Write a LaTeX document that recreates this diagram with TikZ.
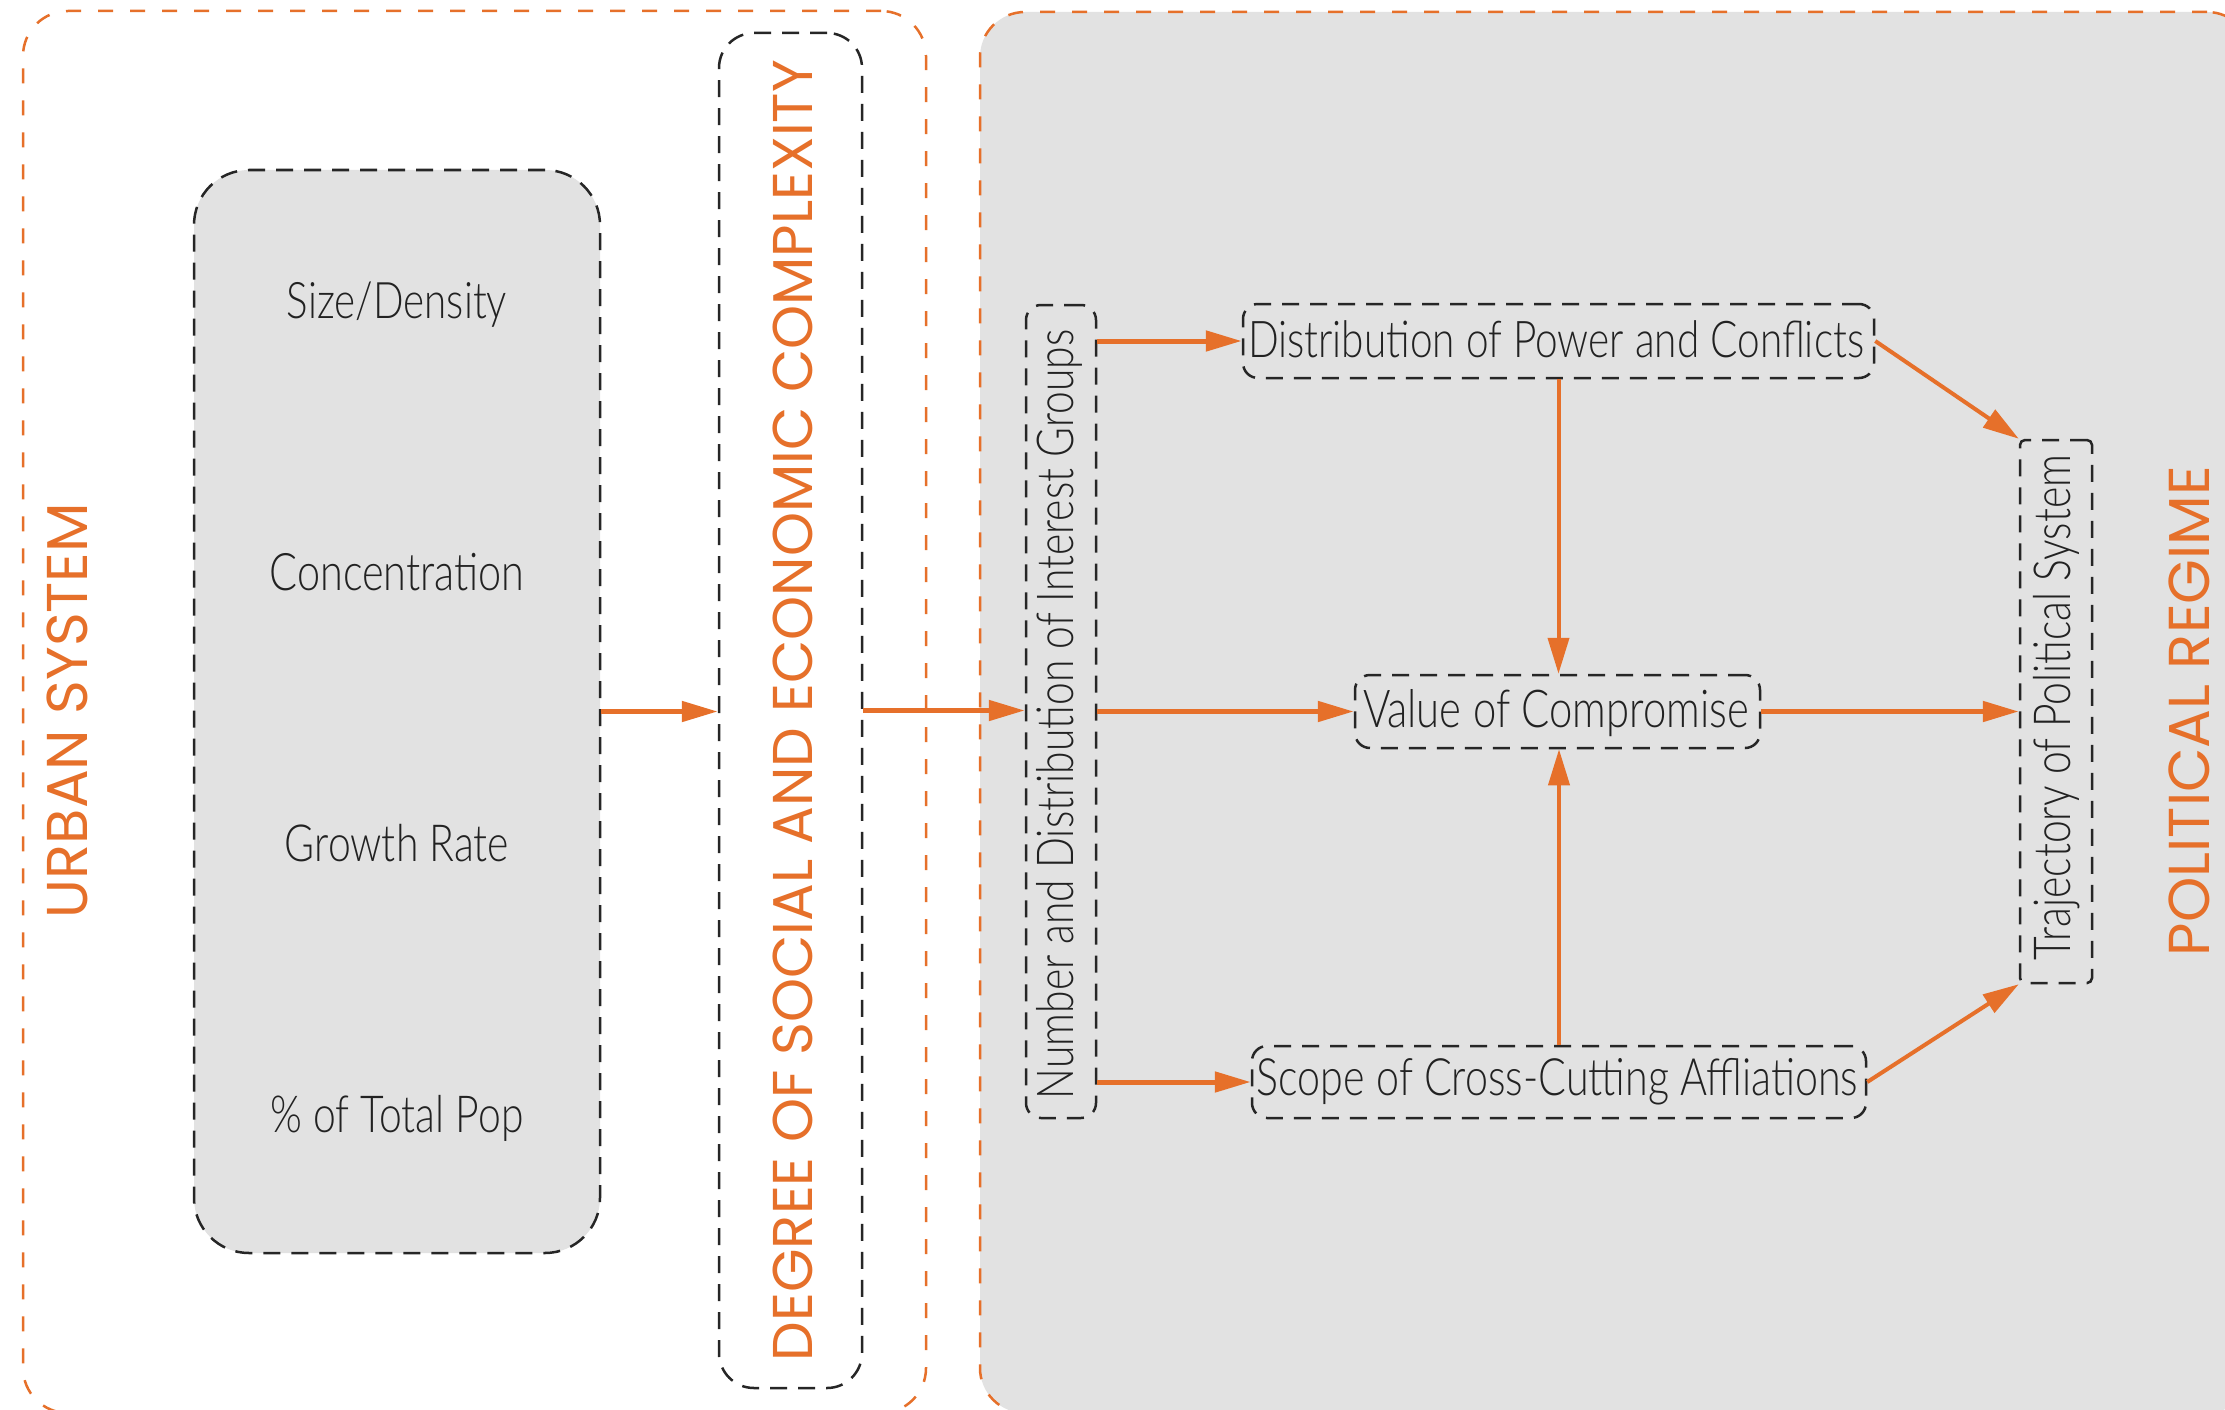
\documentclass[tikz,border=0pt]{standalone}
\usepackage{fontspec}
\usepackage{graphicx}
\usetikzlibrary{arrows.meta}
\setmainfont{Open Sans}
\newfontfamily\labfont[FakeStretch=0.8, UprightFont={* Light}]{Lato}
\newfontfamily\orfont{Poppins}
\definecolor{myorange}{HTML}{E6702A}
\definecolor{mygray}{HTML}{E2E2E2}
\definecolor{mytext}{HTML}{222222}
\newcommand{\fitw}[2]{\resizebox{#1}{!}{#2}}
\tikzset{
  orframe/.style={draw=myorange, line width=2.5pt, dash pattern=on 15pt off 17pt, rounded corners=45pt, inner sep=0pt},
  dbox/.style={draw=black!85, line width=2.5pt, dash pattern=on 17pt off 11pt, inner sep=0pt},
  lab/.style={inner sep=0pt, text=mytext, anchor=base, font=\labfont\fontsize{40}{48}\selectfont},
  olab/.style={inner sep=0pt, text=myorange, anchor=base, rotate=90, font=\orfont\fontsize{56}{64}\selectfont},
  arr/.style={draw=myorange, line width=5pt, -{Triangle[length=36pt,width=20pt]}},
  arrthin/.style={draw=myorange, line width=4pt, -{Triangle[length=36pt,width=21pt]}},
}
\begin{document}
\begin{tikzpicture}[x=1pt,y=-1pt]
\useasboundingbox (0,0) rectangle (2225,1410);
\clip (0,0) rectangle (2225,1410);
\fill[white] (0,0) rectangle (2225,1410);
% frames
\node[orframe, fill=mygray, minimum width=1272pt, minimum height=1401pt] (polframe) at (1616,712.5) {};
\node[orframe, minimum width=903pt, minimum height=1402pt] (urbframe) at (474.5,712) {};
% boxes
\node[dbox, fill=mygray, rounded corners=55pt, minimum width=406pt, minimum height=1083pt] (ubox) at (397,711.5) {};
\node[dbox, rounded corners=35pt, minimum width=143pt, minimum height=1355pt] (degree) at (790.5,710.5) {};
\node[dbox, rounded corners=15pt, minimum width=70pt, minimum height=813pt] (interest) at (1061,711.5) {};
\node[dbox, rounded corners=15pt, minimum width=631pt, minimum height=74pt] (dist) at (1558.5,341) {};
\node[dbox, rounded corners=15pt, minimum width=405pt, minimum height=73pt] (val) at (1557.5,711.5) {};
\node[dbox, rounded corners=15pt, minimum width=614pt, minimum height=72pt] (scope) at (1559,1082) {};
\node[dbox, rounded corners=5pt, minimum width=72pt, minimum height=543pt] (traj) at (2056,711.5) {};
% orange labels
\node[olab] (urbanlab) at (87,710.5) {\fitw{415pt}{URBAN SYSTEM}};
\node[olab] (degreelab) at (812,710.5) {\fitw{1301pt}{DEGREE OF SOCIAL AND ECONOMIC COMPLEXITY}};
\node[olab] (pollab) at (2209,711) {\fitw{490pt}{POLITICAL REGIME}};
% black labels
\node[lab] (t1) at (397,318) {\fitw{220pt}{Size/Density}};
\node[lab] (t2) at (397,590) {\fitw{255pt}{Concentration}};
\node[lab] (t3) at (397,861) {\fitw{224pt}{Growth Rate}};
\node[lab] (t4) at (397,1132) {\fitw{253pt}{\% of Total Pop}};
\node[lab] (tdist) at (1556,357) {\fitw{616pt}{Distribution of Power and Conflicts}};
\node[lab] (tval) at (1556,727) {\fitw{386pt}{Value of Compromise}};
\node[lab] (tscope) at (1557.5,1095) {\fitw{601pt}{Scope of Cross-Cutting Affliations}};
\node[lab, rotate=90] (tint) at (1073,714.5) {\fitw{769pt}{Number and Distribution of Interest Groups}};
\node[lab, rotate=90] (ttraj) at (2070,707.5) {\fitw{505pt}{Trajectory of Political System}};
% arrows
\draw[arr] (ubox.east) -- (ubox.east -| degree.west);
\draw[arr] (degree.east) -- (degree.east -| interest.west);
\draw[arr] (interest.east |- dist.west) -- (dist.west);
\draw[arr] (interest.east) -- (val.west);
\draw[arr] (interest.east |- scope.west) -- (scope.west);
\draw[arrthin] (dist.south) -- (dist.south |- val.north);
\draw[arrthin] (scope.north) -- (scope.north |- val.south);
\draw[arr] (val.east) -- (traj.west);
\draw[arrthin] (dist.east) -- (traj.north west);
\draw[arrthin] (scope.east) -- (traj.south west);
\end{tikzpicture}
\end{document}
